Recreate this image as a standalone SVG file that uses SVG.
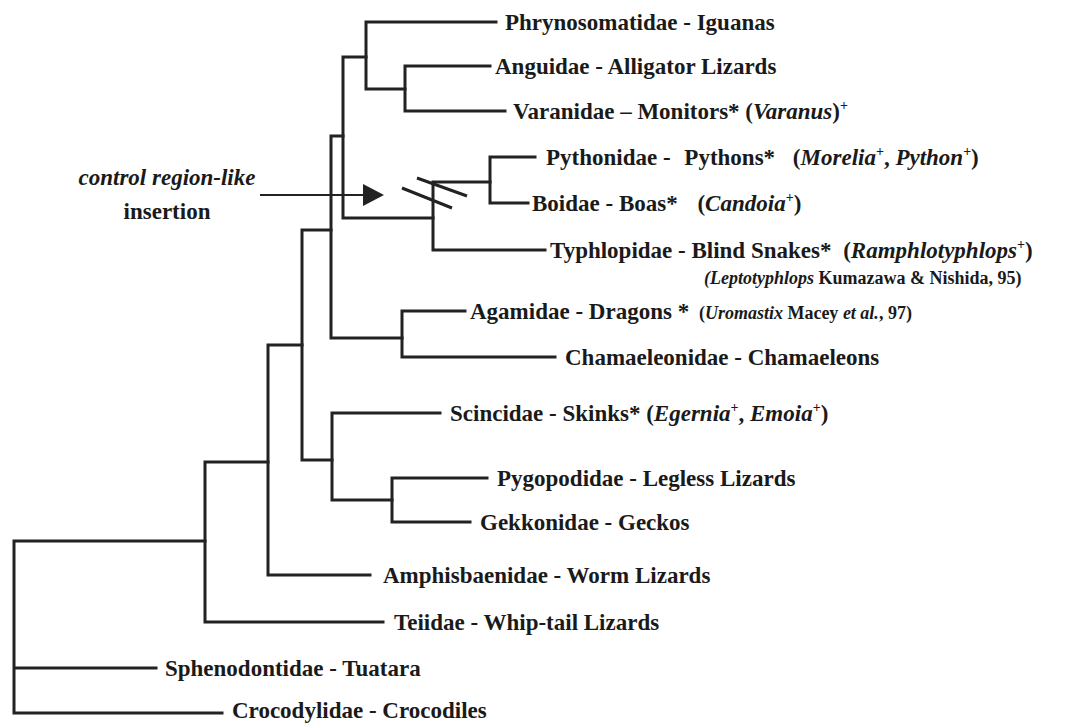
<svg xmlns="http://www.w3.org/2000/svg" width="1078" height="723" viewBox="0 0 1078 723">
<style>
.t{font-family:"Liberation Serif","Times New Roman",serif;font-weight:bold;font-size:23px;fill:#1a1a1a}
.s{font-size:18px}
.i{font-style:italic}
.sup{font-size:14px}
.br{fill:none;stroke:#222;stroke-width:3;stroke-linecap:square}
</style>
<rect width="1078" height="723" fill="#fff"/>
<defs>
<marker id="ah" markerWidth="22" markerHeight="22" refX="0" refY="11" orient="auto" markerUnits="userSpaceOnUse">
<path d="M0,0 L21,11 L0,22 Z" fill="#222"/>
</marker>
</defs>
<g id="connectors">
<path class="br" d="M14,541 V713 M14,541 H205 M14,668 H156 M14,713 H222"/>
<path class="br" d="M205,462 V622 M205,462 H268 M205,622 H383"/>
<path class="br" d="M268,345 V575 M268,575 H370 M268,345 H302"/>
<path class="br" d="M302,230 V460 M302,230 H331 M302,460 H332"/>
<path class="br" d="M332,413 V500 M332,413 H440 M332,500 H392"/>
<path class="br" d="M392,478 V522 M392,478 H487 M392,522 H470"/>
<path class="br" d="M331,136 V338 M331,136 H343 M331,338 H402"/>
<path class="br" d="M402,311 V357 M402,311 H465 M402,357 H555"/>
<path class="br" d="M343,57 V218 M343,57 H366 M343,218 H433"/>
<path class="br" d="M433,182 V250 M433,250 H545 M433,182 H490"/>
<path class="br" d="M490,157 V203 M490,157 H535 M490,203 H528"/>
<path class="br" d="M366,22 V89 M366,22 H496 M366,89 H405"/>
<path class="br" d="M405,66 V111 M405,66 H490 M405,111 H505"/>
<path id="insert-arrow" fill="none" stroke="#222" stroke-width="2" d="M260,195 H363" marker-end="url(#ah)"/>
<path id="break-marks" fill="none" stroke="#222" stroke-width="3" d="M402,188 L452,208 M417,178 L467,196"/>
</g>
<g id="label-insertion">
<text class="t i" x="167" y="185" text-anchor="middle">control region-like</text>
<text class="t" x="167" y="219" text-anchor="middle">insertion</text>
</g>
<g id="n-phrynosomatidae"><text class="t" x="505" y="30">Phrynosomatidae - Iguanas</text></g>
<g id="n-anguidae"><text class="t" x="495" y="74">Anguidae - Alligator Lizards</text></g>
<g id="n-varanidae"><text class="t" x="513" y="119">Varanidae – Monitors* (<tspan class="i">Varanus</tspan>)<tspan class="sup" dy="-9">+</tspan></text></g>
<g id="n-pythonidae"><text class="t" x="546" y="165">Pythonidae - <tspan dx="8">Pythons*</tspan> <tspan dx="12">(</tspan><tspan class="i">Morelia</tspan><tspan class="sup" dy="-9">+</tspan><tspan dy="9">, </tspan><tspan class="i">Python</tspan><tspan class="sup" dy="-9">+</tspan><tspan dy="9">)</tspan></text></g>
<g id="n-boidae"><text class="t" x="532" y="211">Boidae - Boas* <tspan dx="14">(</tspan><tspan class="i">Candoia</tspan><tspan class="sup" dy="-9">+</tspan><tspan dy="9">)</tspan></text></g>
<g id="n-typhlopidae"><text class="t" x="550" y="258">Typhlopidae - Blind Snakes* <tspan dx="6">(</tspan><tspan class="i">Ramphlotyphlops</tspan><tspan class="sup" dy="-9">+</tspan><tspan dy="9">)</tspan></text>
<text class="t s" x="704" y="284"><tspan class="i">(Leptotyphlops</tspan> Kumazawa &amp; Nishida, 95)</text></g>
<g id="n-agamidae"><text class="t" x="470" y="319">Agamidae - Dragons * <tspan class="s" dx="4">(<tspan class="i">Uromastix</tspan> Macey <tspan class="i">et al.</tspan>, 97)</tspan></text></g>
<g id="n-chamaeleonidae"><text class="t" x="565" y="365">Chamaeleonidae - Chamaeleons</text></g>
<g id="n-scincidae"><text class="t" x="450" y="421">Scincidae - Skinks* (<tspan class="i">Egernia</tspan><tspan class="sup" dy="-9">+</tspan><tspan dy="9">, </tspan><tspan class="i">Emoia</tspan><tspan class="sup" dy="-9">+</tspan><tspan dy="9">)</tspan></text></g>
<g id="n-pygopodidae"><text class="t" x="497" y="486">Pygopodidae - Legless Lizards</text></g>
<g id="n-gekkonidae"><text class="t" x="480" y="530">Gekkonidae - Geckos</text></g>
<g id="n-amphisbaenidae"><text class="t" x="383" y="583">Amphisbaenidae  - Worm Lizards</text></g>
<g id="n-teiidae"><text class="t" x="394" y="630">Teiidae - Whip-tail Lizards</text></g>
<g id="n-sphenodontidae"><text class="t" x="165" y="676">Sphenodontidae - Tuatara</text></g>
<g id="n-crocodylidae"><text class="t" x="232" y="718">Crocodylidae - Crocodiles</text></g>
</svg>
